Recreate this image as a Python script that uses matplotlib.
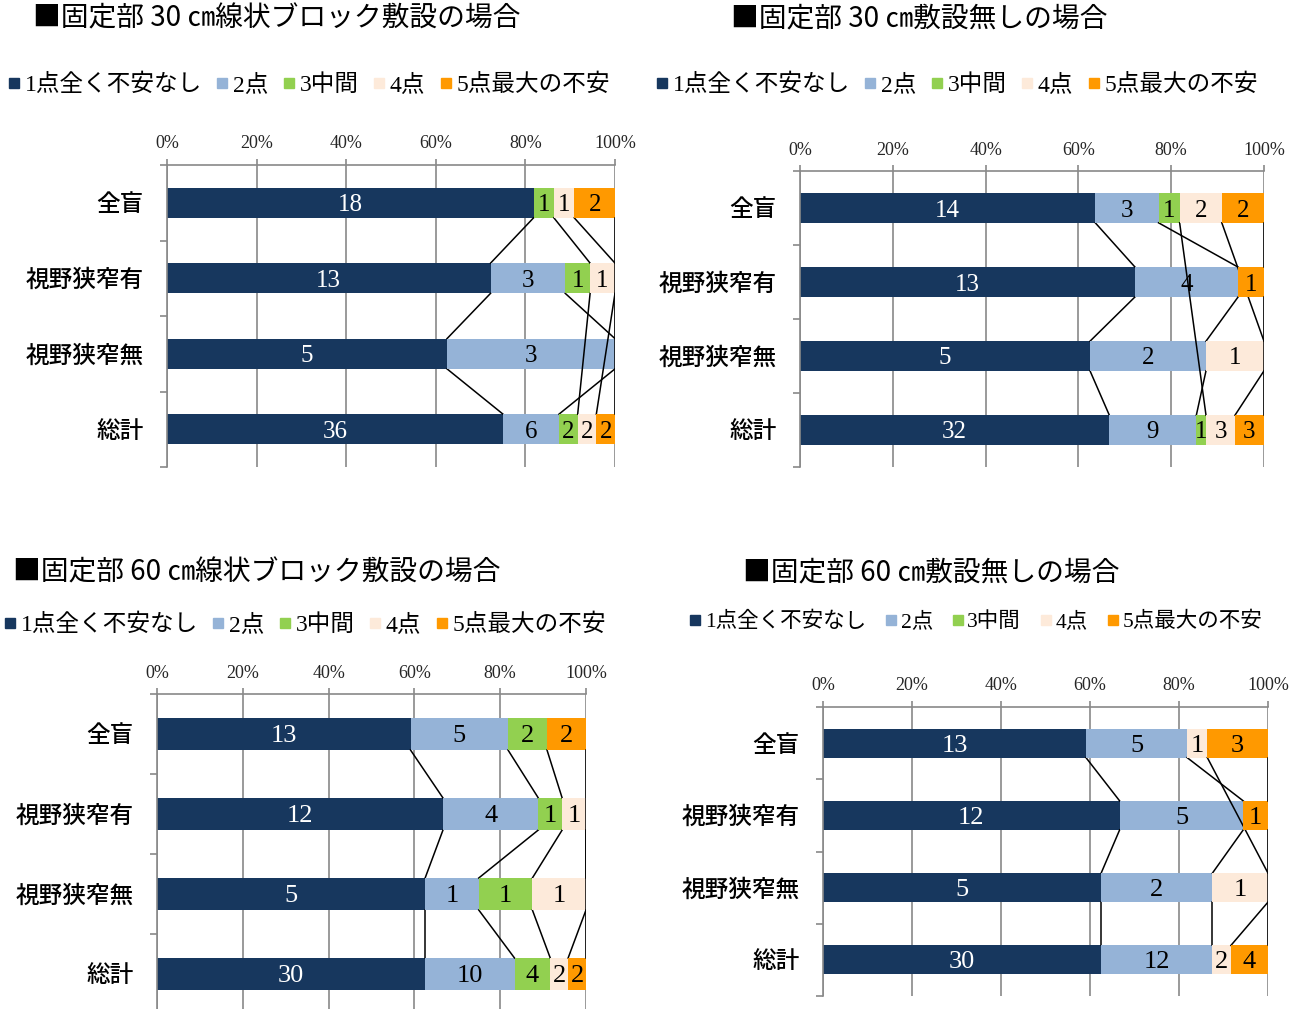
import numpy as np
import matplotlib
matplotlib.use('Agg')
import matplotlib.pyplot as plt
from matplotlib.lines import Line2D

# serif digits like the original, Japanese falls back to Noto CJK
plt.rcParams['font.family'] = ['Liberation Serif', 'Noto Sans CJK JP']

categories = ['全盲', '視野狭窄有', '視野狭窄無', '総計']
series_names = ['1点全く不安なし', '2点', '3中間', '4点', '5点最大の不安']
series_colors = ['#17375E', '#95B3D7', '#92D050', '#FDEADA', '#FF9900']
pct_ticks = [0, 20, 40, 60, 80, 100]

# answer counts per category, in order 1点..5点 (None = empty cell in the sheet)
block30 = [[18, None, 1, 1, 2],
           [13, 3, 1, 1, None],
           [5, 3, None, None, None],
           [36, 6, 2, 2, 2]]
none30 = [[14, 3, 1, 2, 2],
          [13, 4, None, None, 1],
          [5, 2, None, 1, None],
          [32, 9, 1, 3, 3]]
block60 = [[13, 5, 2, None, 2],
           [12, 4, 1, 1, None],
           [5, 1, 1, 1, None],
           [30, 10, 4, 2, 2]]
none60 = [[13, 5, None, 1, 3],
          [12, 5, None, None, 1],
          [5, 2, None, 1, None],
          [30, 12, None, 2, 4]]

titles = ['■固定部 30 ㎝線状ブロック敷設の場合',
          '■固定部 30 ㎝敷設無しの場合',
          '■固定部 60 ㎝線状ブロック敷設の場合',
          '■固定部 60 ㎝敷設無しの場合']

W, H = 1306, 1009
GREY = '#898989'
# plot area of each panel in pixels: left, top, right, bottom
boxes = [(167, 165, 615, 467), (800, 171, 1264, 467), (157, 694, 586, 1014), (823, 707, 1268, 996)]
title_pos = [(33, 18), (731, 18), (13, 572), (743, 572)]
legend_pos = [(8, 85), (656, 85), (4, 625), (690, 622)]
legend_size = [17, 17, 17, 15.5]
legend_gap = [0.62, 0.62, 0.62, 0.9]
value_size = [18, 18, 19, 19]


def draw_panel(fig, data, box, value_fs):
    l, t, r, b = box
    ax = fig.add_axes([l / W, 1 - b / H, (r - l) / W, (b - t) / H])
    counts = np.array([[np.nan if v is None else v for v in row] for row in data], dtype=float)
    filled = np.nan_to_num(counts)
    share = filled / filled.sum(axis=1, keepdims=True)  # 100% stacked
    ends = np.cumsum(share, axis=1)
    starts = ends - share
    y = np.arange(len(categories))
    h = 0.4

    for k in range(len(series_names)):
        has = ~np.isnan(counts[:, k])
        rows = y[has]
        ax.barh(rows, share[has, k], left=starts[has, k], height=h,
                color=series_colors[k], zorder=2 + 2 * k)
        for i in rows:
            ax.text(starts[i, k] + share[i, k] / 2, i, str(int(counts[i, k])),
                    ha='center', va='center_baseline', fontsize=value_fs, zorder=20,
                    color='white' if k == 0 else 'black')
        # series lines: join the same series on neighbouring bars, empty cells are skipped
        for a, c in zip(rows[:-1], rows[1:]):
            ax.plot([ends[a, k], ends[c, k]], [a + h / 2, c - h / 2],
                    color='black', lw=1.1, zorder=3 + 2 * k)

    ax.set_xlim(0, 1)
    ax.set_ylim(len(categories) - 0.5, -0.5)
    ax.xaxis.tick_top()
    ax.set_xticks(np.array(pct_ticks) / 100)
    ax.set_xticklabels([f'{p}%' for p in pct_ticks])
    ax.set_yticks(y)
    ax.set_yticklabels(categories, fontweight='medium')
    ax.set_yticks(np.arange(-0.5, len(categories)), minor=True)
    ax.tick_params(axis='y', which='major', length=0, pad=17, labelsize=17)
    ax.tick_params(axis='y', which='minor', length=5, width=1.2, color=GREY)
    ax.tick_params(axis='x', length=4, width=1.2, color=GREY, pad=5,
                   labelsize=13, labelcolor='#262626')
    ax.grid(axis='x', color=GREY, lw=1.2)
    ax.set_axisbelow(True)
    for side in ['right', 'bottom']:
        ax.spines[side].set_visible(False)
    for side in ['top', 'left']:
        ax.spines[side].set_color(GREY)
        ax.spines[side].set_linewidth(1.2)
    return ax


fig = plt.figure(figsize=(W / 100, H / 100), dpi=100)
panels = [block30, none30, block60, none60]
handles = [Line2D([], [], marker='s', ls='none', color=c, markersize=7) for c in series_colors]

for n, data in enumerate(panels):
    draw_panel(fig, data, boxes[n], value_size[n])
    tx, ty = title_pos[n]
    # full-width ■ only comes from the CJK font
    fig.text(tx / W, 1 - ty / H, titles[n], fontsize=20, ha='left', va='center',
             family=['Noto Sans CJK JP'])
    lx, ly = legend_pos[n]
    fig.legend(handles, series_names, loc='center left', bbox_to_anchor=(lx / W, 1 - ly / H),
               ncol=5, frameon=False, fontsize=legend_size[n], handlelength=0.5,
               handletextpad=0.2, columnspacing=legend_gap[n], borderpad=0, borderaxespad=0)

fig.savefig('out.png', dpi=100)
